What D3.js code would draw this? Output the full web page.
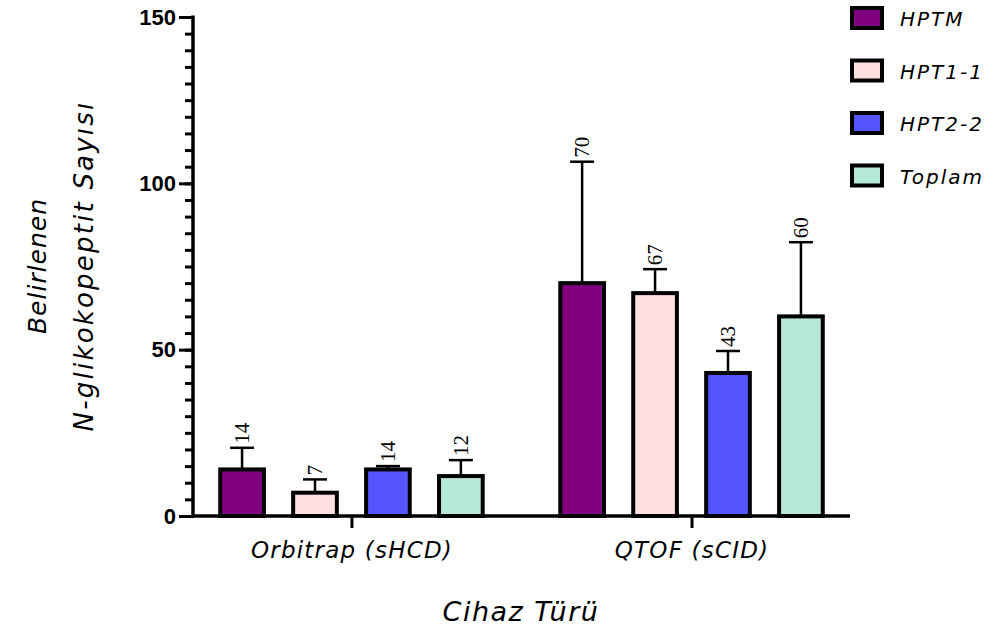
<!DOCTYPE html>
<html>
<head>
<meta charset="utf-8">
<script src="https://cdn.jsdelivr.net/npm/d3@7"></script>
<style>
  body { margin: 0; background: #fff; }
  .hand { font-family: "Segoe Print", "DejaVu Sans", sans-serif; font-style: italic; fill: #000; }
</style>
</head>
<body>
<svg id="chart" width="1001" height="637"></svg>
<script>
// data
const groups = ["Orbitrap (sHCD)", "QTOF (sCID)"];
const series = ["HPTM", "HPT1-1", "HPT2-2", "Toplam"];
const colors = ["#800080", "#ffe0e0", "#5555ff", "#b5e8d5"];
// mean values, per group, in series order
const means = [
  [14, 7, 14, 12],
  [70, 67, 43, 60]
];
// top of the error bar (mean + SD)
const errTop = [
  [20.5, 11, 15, 16.8],
  [106.5, 74.2, 49.6, 82.3]
];
const labels = [
  ["14", "7", "14", "12"],
  ["70", "67", "43", "60"]
];
const yTicks = [0, 50, 100, 150];

const svg = d3.select("#chart");

const x0 = d3.scalePoint().domain(groups).range([193, 850]).padding(0.466);
const x1 = d3.scaleBand().domain(series).range([-159, 159]).paddingInner(0.36).paddingOuter(0.36);
const y = d3.scaleLinear().domain([0, 150]).range([516, 17]);

const rows = [];
groups.forEach((g, gi) => {
  series.forEach((s, si) => {
    rows.push({ g: g, s: s, si: si, v: means[gi][si], e: errTop[gi][si], lab: labels[gi][si] });
  });
});

const barG = svg.append("g");

// error bars first so the bar outline covers the stem
rows.forEach(d => {
  const cx = x0(d.g) + x1(d.s) + x1.bandwidth() / 2;
  barG.append("line")
    .attr("x1", cx).attr("x2", cx)
    .attr("y1", y(d.v)).attr("y2", y(d.e))
    .attr("stroke", "#000").attr("stroke-width", 2.5);
  barG.append("line")
    .attr("x1", cx - 12).attr("x2", cx + 12)
    .attr("y1", y(d.e)).attr("y2", y(d.e))
    .attr("stroke", "#000").attr("stroke-width", 2.5);
  // value label, read bottom to top
  barG.append("text")
    .attr("transform", "translate(" + (cx + 7) + "," + (y(d.e) - 4) + ") rotate(-90)")
    .attr("text-anchor", "start")
    .style("font-family", "'Liberation Serif', 'Times New Roman', serif")
    .style("font-size", "21px")
    .text(d.lab);
});

barG.selectAll(".bar")
  .data(rows)
  .enter()
  .append("rect")
  .attr("class", "bar")
  .attr("x", d => x0(d.g) + x1(d.s) + 1.5)
  .attr("y", d => y(d.v))
  .attr("width", x1.bandwidth() - 3)
  .attr("height", d => y(0) - y(d.v))
  .attr("fill", d => colors[d.si])
  .attr("stroke", "#000")
  .attr("stroke-width", 4);

// y axis: minor ticks every 5
const yAxis = svg.append("g").attr("transform", "translate(193,0)");
yAxis.call(d3.axisLeft(y).tickValues(d3.range(0, 151, 5)).tickSize(8).tickFormat(""));
yAxis.selectAll(".tick line").attr("stroke-width", 3);
yAxis.select(".domain").remove();
const yMajor = svg.append("g").attr("transform", "translate(193,0)");
yMajor.call(d3.axisLeft(y).tickValues(yTicks).tickSize(14).tickPadding(3));
yMajor.select(".domain").remove();
yMajor.selectAll(".tick line").attr("stroke-width", 3);
yMajor.selectAll(".tick text")
  .style("font-family", "'Liberation Sans', Arial, sans-serif")
  .style("font-weight", "bold")
  .style("font-size", "22px")
  .attr("fill", "#000");
svg.append("line")
  .attr("x1", 193).attr("x2", 193)
  .attr("y1", y(150) - 1.5).attr("y2", y(0) + 1.5)
  .attr("stroke", "#000").attr("stroke-width", 3.5);

// x axis
const xAxis = svg.append("g").attr("transform", "translate(0," + y(0) + ")");
xAxis.call(d3.axisBottom(x0).tickSize(12).tickPadding(14).tickSizeOuter(0));
xAxis.select(".domain").attr("stroke-width", 3.5).attr("d", "M193,0H850");
xAxis.selectAll(".tick line").attr("stroke-width", 3);
xAxis.selectAll(".tick text")
  .attr("class", "hand")
  .style("font-size", "23px")
  .style("letter-spacing", "1.2px");

// axis titles
svg.append("text").attr("class", "hand")
  .attr("transform", "translate(46,266) rotate(-90)")
  .attr("text-anchor", "middle")
  .style("font-size", "25px")
  .style("letter-spacing", "1px")
  .text("Belirlenen");
svg.append("text").attr("class", "hand")
  .attr("transform", "translate(93,266) rotate(-90)")
  .attr("text-anchor", "middle")
  .style("font-size", "26px")
  .style("letter-spacing", "2.2px")
  .text("N-glikokopeptit Sayısı");
svg.append("text").attr("class", "hand")
  .attr("x", 521).attr("y", 621)
  .attr("text-anchor", "middle")
  .style("font-size", "27px")
  .style("letter-spacing", "1.5px")
  .text("Cihaz Türü");

// legend
const leg = svg.append("g").attr("transform", "translate(852,8)");
series.forEach((s, i) => {
  const row = leg.append("g").attr("transform", "translate(0," + i * 52.5 + ")");
  row.append("rect")
    .attr("x", 0).attr("y", 0)
    .attr("width", 30).attr("height", 20)
    .attr("fill", colors[i])
    .attr("stroke", "#000").attr("stroke-width", 4);
  row.append("text").attr("class", "hand")
    .attr("x", 48).attr("y", 18)
    .style("font-size", "20px")
    .style("letter-spacing", "2px")
    .text(s);
});
</script>
</body>
</html>
